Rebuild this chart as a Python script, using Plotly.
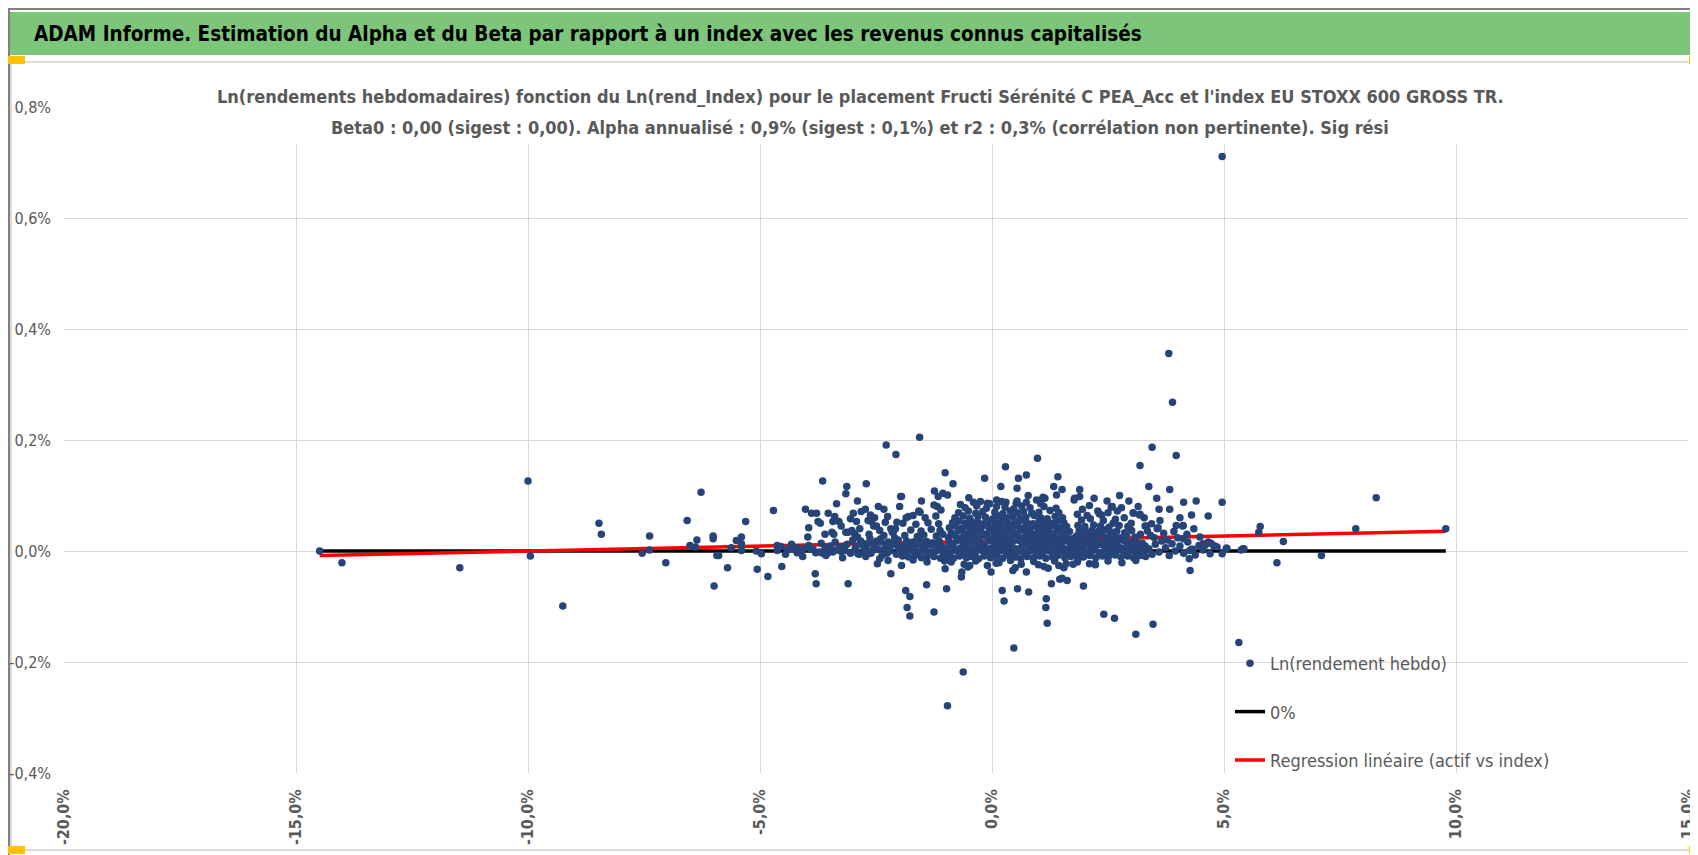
import plotly.graph_objects as go

# weekly log returns, in %: x = index, y = fund
# isolated points
outliers = [
    (-14.49, 0.000), (-14.01, -0.021), (-11.47, -0.030), (-10.00, 0.126), (-9.95, -0.009),
    (-9.25, -0.099), (-8.47, 0.050), (-8.42, 0.030), (-7.54, -0.004), (-7.38, 0.002),
    (-7.38, 0.027), (-7.03, -0.021), (-6.57, 0.055), (-6.27, 0.106), (-6.51, 0.010),
    (-6.39, 0.007), (-6.36, 0.020), (-6.01, 0.027), (-6.01, 0.022), (-5.93, -0.008),
    (-5.99, -0.063), (-5.70, -0.030), (-5.89, -0.008), (-5.62, 0.006), (-5.51, 0.019),
    (-5.40, 0.025), (-5.40, 0.013), (-5.40, 0.001), (-5.31, 0.053), (-5.06, -0.033),
    (-5.08, 0.000), (-4.97, -0.005), (-4.83, -0.046), (-4.71, 0.073), (-4.63, 0.010),
    (-4.63, 0.001), (-4.53, -0.028), (-4.40, 0.004), (-4.29, 0.003), (-4.14, 0.002),
    (-4.04, 0.005), (-4.02, 0.075), (-3.97, 0.025), (-3.89, 0.068), (-3.78, 0.068),
    (-3.81, -0.041), (-3.79, -0.059), (-3.75, 0.053), (-3.80, -0.003), (-3.72, -0.002),
    (-3.53, 0.068), (-3.53, -0.003), (-3.43, -0.002), (-3.43, 0.053), (-3.39, 0.062),
    (-3.45, 0.034), (-3.41, 0.030), (-3.30, 0.053), (-3.25, -0.001), (-3.17, 0.001),
    (-3.15, 0.034), (-3.10, 0.034), (-3.10, -0.059), (-3.02, 0.037), (-2.96, 0.031),
    (-2.99, 0.068), (-2.92, 0.053), (-2.82, 0.071), (-2.73, 0.075), (-2.76, 0.013),
    (-2.68, 0.012), (-2.60, 0.015), (-2.54, 0.013), (-2.89, -0.005), (-2.74, -0.002),
    (-2.67, 0.055), (-2.60, 0.053), (-2.53, 0.060), (-2.49, 0.045), (-2.42, 0.037),
    (-2.47, -0.023), (-2.33, 0.075), (-2.39, 0.016), (-2.31, 0.004), (-2.24, 0.016),
    (-2.24, -0.017), (-2.18, -0.041), (-2.18, 0.040), (-2.13, 0.034), (-1.99, 0.080),
    (-1.97, 0.098), (-1.95, -0.026), (-1.86, -0.071), (-1.77, -0.082), (-1.83, -0.102),
    (-1.77, -0.117), (-1.52, 0.090), (-1.41, -0.061), (-1.24, 0.108), (-1.25, -0.110),
    (-1.16, 0.098), (-1.06, 0.104), (-0.96, 0.101), (-0.98, -0.068), (-1.01, -0.032),
    (-0.66, -0.047), (-0.65, -0.038), (-0.52, -0.029), (-0.50, 0.096), (-0.02, -0.038),
    (0.22, -0.071), (0.26, -0.090), (0.45, -0.035), (0.47, -0.175), (0.55, -0.068),
    (0.74, -0.038), (0.79, -0.074), (1.17, -0.086), (1.16, -0.102), (1.19, -0.130),
    (1.21, -0.031), (1.28, -0.059), (1.44, -0.026), (1.46, -0.051), (1.51, -0.049),
    (1.62, -0.053), (1.84, -0.020), (1.97, -0.063), (2.10, -0.023), (2.21, -0.023),
    (2.41, -0.114), (2.64, -0.121), (2.61, 0.050), (2.79, 0.078), (-0.62, -0.218),
    (-0.96, -0.279), (3.10, -0.150), (3.47, -0.132), (5.32, -0.165), (4.27, -0.035),
    (4.96, 0.711), (3.81, 0.356), (3.89, 0.268), (3.45, 0.187), (3.97, 0.172),
    (3.19, 0.154), (3.38, 0.116), (3.83, 0.111), (3.83, 0.075), (4.13, 0.088),
    (4.96, 0.088), (4.66, 0.063), (8.28, 0.096), (7.84, 0.040), (5.78, 0.044),
    (5.75, 0.034), (6.28, 0.017), (7.10, -0.008), (5.05, 0.005), (5.41, 0.004),
    (4.55, 0.013), (4.66, 0.016), (4.78, 0.009), (4.12, 0.046), (3.97, 0.046),
    (3.58, 0.042), (3.44, 0.049), (3.30, 0.045), (3.05, 0.068), (3.19, 0.066),
    (0.98, 0.167), (0.57, 0.131), (0.74, 0.137), (1.42, 0.134), (1.33, 0.116),
    (1.51, 0.111), (1.89, 0.111), (1.89, 0.098), (1.77, 0.092), (0.54, 0.113),
    (0.54, 0.090), (2.70, 0.072), (-1.56, 0.205), (-2.28, 0.191), (-2.07, 0.174),
    (-3.65, 0.126), (-3.13, 0.116), (-3.15, 0.103), (-2.71, 0.121), (-1.01, 0.141),
    (-0.84, 0.121), (-1.95, 0.098), (-0.16, 0.131), (0.29, 0.152), (0.19, 0.116),
    (0.78, 0.100), (1.39, 0.101), (2.59, 0.080), (2.50, 0.069), (2.28, 0.072),
    (2.36, 0.065), (2.10, 0.082), (1.95, 0.075), (1.78, 0.095), (1.14, 0.095),
    (1.06, 0.092), (0.10, 0.092), (0.30, 0.088), (-0.25, 0.089), (-0.10, 0.086),
    (-0.68, 0.084), (-1.25, 0.083), (-1.18, 0.080), (-1.55, 0.070), (-1.70, 0.064),
    (-1.85, 0.060), (0.96, 0.092), (1.10, 0.097), (2.57, 0.079), (3.04, 0.069),
    (3.18, 0.065), (3.33, 0.045), (3.07, 0.019), (9.78, 0.040), (6.14, -0.021),
]

# the dense core around 0 (roughly -1% .. +1.8% on the index)
core_mid = [
    (-0.96, -0.011), (-0.83, -0.013), (-0.70, -0.009), (-0.55, -0.012), (-0.43, -0.010), (-0.29, -0.014),
    (-0.17, -0.009), (-0.03, -0.012), (0.10, -0.010), (0.23, -0.013), (0.36, -0.008), (0.50, -0.011),
    (0.62, -0.014), (0.76, -0.010), (0.89, -0.012), (1.03, -0.009), (1.16, -0.013), (1.30, -0.011),
    (1.42, -0.008), (1.57, -0.012), (1.70, -0.010),
    (-0.90, -0.003), (-0.76, 0.000), (-0.63, -0.004), (-0.49, -0.001), (-0.36, -0.003), (-0.22, 0.001),
    (-0.09, -0.002), (0.04, -0.004), (0.17, 0.000), (0.30, -0.002), (0.43, -0.005), (0.57, -0.001),
    (0.70, -0.003), (0.83, 0.001), (0.96, -0.002), (1.09, -0.004), (1.23, 0.000), (1.36, -0.003),
    (1.49, -0.001), (1.63, -0.004), (1.76, -0.002),
    (-0.97, 0.006), (-0.84, 0.009), (-0.69, 0.005), (-0.56, 0.008), (-0.42, 0.006), (-0.30, 0.010),
    (-0.16, 0.007), (-0.02, 0.005), (0.11, 0.009), (0.24, 0.006), (0.37, 0.008), (0.50, 0.004),
    (0.64, 0.007), (0.77, 0.010), (0.90, 0.006), (1.03, 0.008), (1.17, 0.005), (1.29, 0.009),
    (1.43, 0.007), (1.56, 0.004), (1.70, 0.008),
    (-0.91, 0.015), (-0.77, 0.018), (-0.62, 0.014), (-0.50, 0.017), (-0.35, 0.016), (-0.23, 0.013),
    (-0.08, 0.018), (0.05, 0.015), (0.18, 0.017), (0.31, 0.014), (0.44, 0.016), (0.58, 0.019),
    (0.71, 0.015), (0.84, 0.013), (0.97, 0.017), (1.10, 0.016), (1.24, 0.014), (1.37, 0.018),
    (1.50, 0.015), (1.64, 0.017), (1.77, 0.013),
    (-0.94, 0.024), (-0.79, 0.027), (-0.66, 0.023), (-0.53, 0.026), (-0.39, 0.025), (-0.26, 0.022),
    (-0.12, 0.027), (0.01, 0.024), (0.14, 0.026), (0.27, 0.023), (0.40, 0.025), (0.54, 0.028),
    (0.67, 0.024), (0.80, 0.022), (0.93, 0.026), (1.06, 0.025), (1.20, 0.023), (1.33, 0.027),
    (1.46, 0.024), (1.60, 0.026), (1.73, 0.022),
    (-0.88, 0.033), (-0.73, 0.036), (-0.60, 0.032), (-0.46, 0.035), (-0.33, 0.034), (-0.19, 0.031),
    (-0.05, 0.036), (0.08, 0.033), (0.21, 0.035), (0.34, 0.032), (0.47, 0.034), (0.61, 0.037),
    (0.74, 0.033), (0.87, 0.031), (1.00, 0.035), (1.13, 0.034), (1.27, 0.032), (1.40, 0.036),
    (1.53, 0.033), (1.67, 0.035),
    (-0.92, 0.042), (-0.78, 0.045), (-0.64, 0.041), (-0.51, 0.044), (-0.37, 0.043), (-0.24, 0.040),
    (-0.10, 0.045), (0.03, 0.042), (0.16, 0.044), (0.29, 0.041), (0.42, 0.043), (0.55, 0.046),
    (0.69, 0.042), (0.82, 0.040), (0.95, 0.044), (1.08, 0.043), (1.22, 0.041), (1.35, 0.045),
    (1.48, 0.042), (1.61, 0.044),
    (-0.85, 0.051), (-0.71, 0.054), (-0.58, 0.050), (-0.44, 0.053), (-0.31, 0.052), (-0.18, 0.049),
    (-0.04, 0.054), (0.09, 0.051), (0.22, 0.053), (0.35, 0.050), (0.49, 0.052), (0.62, 0.055),
    (0.75, 0.051), (0.88, 0.049), (1.01, 0.053), (1.15, 0.052), (1.28, 0.050), (1.41, 0.054),
    (1.55, 0.051),
    (-0.80, 0.060), (-0.62, 0.063), (-0.48, 0.059), (-0.30, 0.062), (-0.14, 0.061), (0.02, 0.058),
    (0.15, 0.063), (0.31, 0.060), (0.44, 0.062), (0.60, 0.059), (0.73, 0.061), (0.91, 0.064),
    (1.05, 0.060), (1.19, 0.058), (1.36, 0.062), (1.52, 0.060),
    (-0.72, 0.069), (-0.51, 0.072), (-0.35, 0.068), (-0.20, 0.071), (0.06, 0.070), (0.23, 0.067),
    (0.39, 0.072), (0.55, 0.069), (0.68, 0.071), (0.86, 0.068), (1.01, 0.070), (1.25, 0.073),
    (1.44, 0.069),
    (-0.58, 0.078), (-0.33, 0.081), (-0.12, 0.077), (0.10, 0.080), (0.28, 0.079), (0.47, 0.076),
    (0.64, 0.081), (0.82, 0.078), (1.12, 0.080), (1.38, 0.077),
    (-0.40, 0.088), (-0.05, 0.085), (0.21, 0.089), (0.52, 0.086), (0.74, 0.088), (1.05, 0.085),
]

core_left = [
    (-1.93, -0.009), (-1.80, -0.011), (-1.66, -0.008), (-1.52, -0.012), (-1.39, -0.009), (-1.25, -0.010),
    (-1.11, -0.013), (-1.98, 0.000), (-1.86, -0.002), (-1.72, 0.001), (-1.59, -0.003), (-1.45, 0.000),
    (-1.32, -0.002), (-1.18, 0.001), (-1.05, -0.003), (-1.90, 0.009), (-1.77, 0.007), (-1.63, 0.010),
    (-1.50, 0.008), (-1.36, 0.011), (-1.22, 0.007), (-1.09, 0.009), (-1.84, 0.018), (-1.70, 0.016),
    (-1.55, 0.019), (-1.41, 0.017), (-1.28, 0.015), (-1.14, 0.018), (-1.88, 0.028), (-1.61, 0.026),
    (-1.47, 0.029), (-1.20, 0.027), (-1.06, 0.030), (-1.75, 0.038), (-1.53, 0.036), (-1.31, 0.039),
    (-1.12, 0.037), (-1.92, 0.050), (-1.64, 0.048), (-1.38, 0.051), (-1.15, 0.049), (-1.80, 0.062),
    (-1.44, 0.060), (-1.21, 0.063), (-1.58, 0.072), (-1.10, 0.074),
    (-2.95, 0.004), (-2.86, -0.006), (-2.78, 0.010), (-2.70, 0.001), (-2.61, -0.004), (-2.52, 0.012),
    (-2.45, 0.003), (-2.37, -0.008), (-2.28, 0.008), (-2.20, 0.000), (-2.12, 0.015), (-2.06, -0.006),
    (-2.02, 0.006), (-2.90, 0.025), (-2.65, 0.030), (-2.40, 0.022), (-2.15, 0.034), (-2.55, 0.045),
    (-2.30, 0.052), (-2.10, 0.024), (-3.05, -0.004), (-3.20, 0.008), (-3.35, 0.002), (-3.60, 0.006),
    (-3.65, -0.004), (-3.90, 0.003), (-4.20, -0.003),
]

# looser spread on the left shoulder (-4.6% .. -2%)
shoulder_left = [
    (-4.55, 0.008), (-4.45, -0.006), (-4.32, 0.012), (-4.18, 0.006), (-4.08, -0.010), (-3.95, 0.010),
    (-3.86, 0.004), (-3.68, 0.014), (-3.58, -0.008), (-3.48, 0.009), (-3.38, 0.016), (-3.28, 0.006),
    (-3.22, -0.012), (-3.12, 0.012), (-3.00, 0.020), (-2.93, 0.008), (-2.83, 0.018), (-2.72, -0.010),
    (-2.63, 0.022), (-2.56, 0.002), (-2.48, 0.018), (-2.42, -0.014), (-2.33, 0.028), (-2.26, -0.004),
    (-2.17, 0.010), (-2.08, 0.040), (-2.02, 0.020),
    (-3.95, 0.042), (-3.70, 0.050), (-3.60, 0.030), (-3.25, 0.045), (-3.05, 0.058), (-2.85, 0.040),
    (-2.62, 0.065), (-2.45, 0.080), (-2.25, 0.062), (-2.05, 0.052), (-3.35, 0.085), (-2.90, 0.090),
]

core_right = [
    (1.84, -0.009), (1.97, -0.011), (2.11, -0.008), (2.24, -0.012), (2.38, -0.009), (2.51, -0.010),
    (2.65, -0.007), (2.78, -0.011), (2.92, -0.009), (3.05, -0.012), (3.19, -0.008), (3.31, -0.010),
    (1.90, 0.000), (2.04, -0.002), (2.17, 0.001), (2.31, -0.003), (2.44, 0.000), (2.58, -0.002),
    (2.71, 0.002), (2.85, -0.001), (2.98, 0.000), (3.12, -0.003), (3.25, 0.001),
    (1.83, 0.009), (1.96, 0.007), (2.10, 0.010), (2.23, 0.008), (2.37, 0.011), (2.50, 0.007),
    (2.64, 0.009), (2.77, 0.006), (2.91, 0.010), (3.04, 0.008), (3.18, 0.006), (3.30, 0.009),
    (1.89, 0.018), (2.03, 0.016), (2.16, 0.019), (2.30, 0.017), (2.43, 0.015), (2.57, 0.018),
    (2.70, 0.016), (2.84, 0.019), (2.97, 0.015), (3.11, 0.017), (3.24, 0.014),
    (1.82, 0.027), (1.95, 0.025), (2.09, 0.028), (2.22, 0.026), (2.36, 0.029), (2.49, 0.025),
    (2.63, 0.027), (2.76, 0.024), (2.90, 0.028), (3.08, 0.025),
    (1.88, 0.036), (2.02, 0.034), (2.15, 0.037), (2.29, 0.035), (2.42, 0.038), (2.56, 0.034),
    (2.69, 0.036), (2.86, 0.033), (3.01, 0.037),
    (1.85, 0.046), (2.00, 0.044), (2.19, 0.047), (2.34, 0.045), (2.52, 0.043), (2.74, 0.046),
    (2.93, 0.044), (1.93, 0.056), (2.12, 0.058), (2.40, 0.055), (2.66, 0.057), (1.84, 0.066),
    (2.05, 0.064), (2.31, 0.067),
    (3.38, 0.004), (3.45, -0.006), (3.52, 0.012), (3.60, -0.002), (3.66, 0.018), (3.74, 0.006),
    (3.82, -0.008), (3.88, 0.013), (3.95, 0.000), (4.05, 0.009), (4.13, -0.004), (4.22, 0.016),
    (4.30, 0.003), (4.38, -0.007), (4.46, 0.010), (3.42, 0.028), (3.70, 0.032), (4.00, 0.024),
    (4.55, 0.002), (4.70, -0.005), (4.85, 0.007), (3.56, 0.040), (4.26, 0.001), (4.33, 0.003),
    (4.25, -0.014), (4.11, 0.045), (4.12, 0.022), (4.60, 0.011), (4.72, 0.014), (4.80, 0.009),
    (5.06, 0.005), (4.96, -0.005), (5.43, 0.004), (5.37, 0.002),
]

# looser spread on the right shoulder (2.5% .. 4.5%)
shoulder_right = [
    (3.20, 0.030), (3.35, 0.036), (3.50, 0.024), (3.62, 0.055), (3.78, 0.020), (3.92, 0.035),
    (4.05, 0.060), (4.20, 0.030), (4.35, 0.040), (4.48, 0.025), (3.00, 0.050), (3.15, 0.080),
    (3.28, 0.060), (2.85, 0.060), (2.95, 0.090), (3.60, 0.075), (4.30, 0.065), (2.48, 0.090),
    (2.20, 0.095), (2.75, 0.100), (3.55, 0.095), (4.40, 0.090),
]

core_below = [
    (-0.88, -0.020), (-0.60, -0.024), (-0.35, -0.018), (-0.10, -0.026), (0.15, -0.021), (0.40, -0.017),
    (0.63, -0.024), (0.90, -0.019), (1.12, -0.028), (1.35, -0.018), (1.60, -0.023), (1.85, -0.016),
    (2.23, -0.025), (2.50, -0.018), (2.80, -0.021), (3.10, -0.017), (-1.40, -0.020), (-1.70, -0.016),
    (0.50, -0.030), (1.00, -0.025), (1.55, -0.030), (1.75, -0.024), (-1.02, -0.018), (-0.48, -0.026),
    (0.09, -0.022),
]

# regression: alpha (weekly, %) and beta
alpha_w = 0.018
beta = 0.0018

x_ticks = [-20, -15, -10, -5, 0, 5, 10, 15]
x_tick_labels = ["-20,0%", "-15,0%", "-10,0%", "-5,0%", "0,0%", "5,0%", "10,0%", "15,0%"]
y_ticks = [-0.4, -0.2, 0.0, 0.2, 0.4, 0.6, 0.8]
y_tick_labels = ["-0,4%", "-0,2%", "0,0%", "0,2%", "0,4%", "0,6%", "0,8%"]

banner = "ADAM Informe. Estimation du Alpha et du Beta par rapport à un index avec les revenus connus capitalisés"
title_1 = ("Ln(rendements hebdomadaires) fonction du Ln(rend_Index) pour le placement "
           "Fructi Sérénité C PEA_Acc et l'index EU STOXX 600 GROSS TR.")
title_2 = ("Beta0 : 0,00 (sigest : 0,00). Alpha annualisé : 0,9% (sigest : 0,1%) "
           "et r2 : 0,3% (corrélation non pertinente). Sig rési")

points = outliers + core_left + shoulder_left + core_mid + core_right + shoulder_right + core_below
idx_ret = [p[0] for p in points]
fund_ret = [p[1] for p in points]

x_lo, x_hi = min(idx_ret), max(idx_ret)
reg_x = [x_lo, x_hi]
reg_y = [alpha_w + beta * v for v in reg_x]

FONT = "DejaVu Sans Condensed, Liberation Sans Narrow, sans-serif"
GREY = "#595959"

fig = go.Figure()

fig.add_trace(go.Scatter(
    x=reg_x, y=[0, 0], mode="lines", name="0%",
    line=dict(color="black", width=3.5),
    legendgroup="b", legendrank=2,
))
fig.add_trace(go.Scatter(
    x=reg_x, y=reg_y, mode="lines", name="Regression linéaire (actif vs index)",
    line=dict(color="#ff0000", width=3.5),
    legendgroup="c", legendrank=3,
))
fig.add_trace(go.Scatter(
    x=idx_ret, y=fund_ret, mode="markers", name="Ln(rendement hebdo)",
    marker=dict(color="#264478", size=7.5, line=dict(width=0)),
    legendgroup="a", legendrank=1,
))

# pixel layout of the plot area in the 1698x855 page
L, R, T, B = 56, 18, 99, 90
W, H = 1698 - L - R, 855 - T - B


def px(x):
    return (x - L) / W


def py(y):
    return (855 - B - y) / H


shapes = [
    # green banner
    dict(type="rect", xref="paper", yref="paper", x0=px(0), x1=px(1698), y0=py(47), y1=py(4),
         fillcolor="#7dc57b", line=dict(width=0), layer="below"),
    # chart frame
    dict(type="rect", xref="paper", yref="paper", x0=px(3), x1=px(1689), y0=py(842), y1=py(54),
         line=dict(color="#d0d0d0", width=1.5), layer="below"),
    # outer border of the screenshot
    dict(type="rect", xref="paper", yref="paper", x0=px(1), x1=px(1697), y0=py(854), y1=py(1),
         line=dict(color="#7f7f7f", width=2), layer="below"),
    # white box behind the chart title (hides the top gridline)
    dict(type="rect", xref="paper", yref="paper", x0=px(205), x1=px(1500), y0=py(136), y1=py(74),
         fillcolor="white", line=dict(width=0), layer="above"),
]
# orange selection handles at the frame corners
for hx, hy in [(0, 48), (1681, 48), (0, 838), (1681, 838)]:
    shapes.append(dict(type="rect", xref="paper", yref="paper",
                       x0=px(hx), x1=px(hx + 17), y0=py(hy + 8), y1=py(hy),
                       fillcolor="#ffc000", line=dict(width=0)))

fig.update_layout(
    width=1698, height=855,
    margin=dict(l=L, r=R, t=T, b=B, autoexpand=False),
    paper_bgcolor="white", plot_bgcolor="white",
    font=dict(family=FONT, color=GREY),
    shapes=shapes,
    showlegend=True,
    legend=dict(
        x=px(1222), y=py(637), xanchor="left", yanchor="top",
        bgcolor="rgba(0,0,0,0)", font=dict(size=18, color=GREY),
        traceorder="grouped", tracegroupgap=22,
    ),
    annotations=[
        dict(text=banner, xref="paper", yref="paper", x=px(24), y=py(26),
             xanchor="left", yanchor="middle", showarrow=False,
             font=dict(size=20.5, color="black", family=FONT, weight="bold")),
        dict(text=title_1, xref="paper", yref="paper",
             x=px(852), y=py(88), xanchor="center", yanchor="middle", showarrow=False,
             font=dict(size=18, color=GREY, family=FONT, weight="bold")),
        dict(text=title_2, xref="paper", yref="paper",
             x=px(852), y=py(119), xanchor="center", yanchor="middle", showarrow=False,
             font=dict(size=18, color=GREY, family=FONT, weight="bold")),
    ],
)

fig.update_xaxes(
    range=[-20, 15], tickvals=x_ticks, ticktext=x_tick_labels, tickangle=-90,
    showgrid=True, gridcolor="#d9d9d9", gridwidth=1.3, zeroline=False,
    showline=False, ticks="", ticklabelstandoff=12, automargin=False,
    tickfont=dict(size=16, color=GREY, family=FONT, weight="bold"),
)
fig.update_yaxes(
    range=[-0.4, 0.8], tickvals=y_ticks, ticktext=y_tick_labels,
    showgrid=True, gridcolor="#d9d9d9", gridwidth=1.3, zeroline=False,
    showline=False, ticks="", ticklabelstandoff=12, automargin=False,
    tickfont=dict(size=16, color=GREY, family=FONT),
)

fig.write_html("out.html")
